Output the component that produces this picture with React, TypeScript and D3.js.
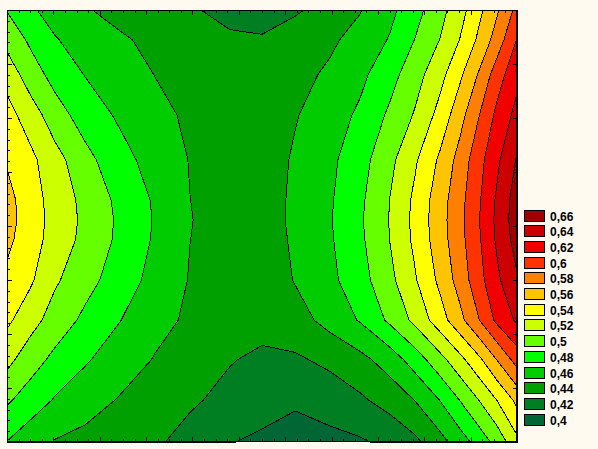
import React from 'react';
import * as d3 from 'd3';

// Contour levels (lower bound of each band) with legend labels and colours
const levels = [0.4, 0.42, 0.44, 0.46, 0.48, 0.5, 0.52, 0.54, 0.56, 0.58, 0.6, 0.62, 0.64, 0.66];
const levelLabels = ['0,4', '0,42', '0,44', '0,46', '0,48', '0,5', '0,52', '0,54', '0,56', '0,58', '0,6', '0,62', '0,64', '0,66'];
const levelColors = ['#006633', '#007f22', '#00a000', '#00cc00', '#00ff00', '#66ff00', '#ccff00', '#ffff00', '#ffc400', '#ff8000', '#ff3300', '#f00000', '#cc0000', '#a00000'];

// Grid sample positions (normalised axis units, 0..1)
const xGrid = [0, 0.045, 0.094, 0.153, 0.222, 0.29, 0.359, 0.437, 0.5, 0.565, 0.633, 0.692, 0.751, 0.8, 0.849, 0.888, 0.927, 0.961, 1];
const yGrid = [0, 0.069, 0.15, 0.243, 0.347, 0.44, 0.486, 0.532, 0.625, 0.718, 0.81, 0.903, 1];

// Surface values, one row per yGrid entry (top to bottom)
const row00 = [0.499, 0.483, 0.4726, 0.4615, 0.4544, 0.4481, 0.4418, 0.4352, 0.432, 0.4377, 0.4468, 0.4588, 0.475, 0.4928, 0.5133, 0.532, 0.556, 0.5775, 0.606];
const row01 = [0.513, 0.4969, 0.4813, 0.4721, 0.4623, 0.4558, 0.4504, 0.4425, 0.4418, 0.4487, 0.4566, 0.467, 0.4815, 0.5005, 0.5205, 0.5405, 0.565, 0.589, 0.621];
const row02 = [0.533, 0.5098, 0.4933, 0.4794, 0.4693, 0.4597, 0.4542, 0.4481, 0.4452, 0.454, 0.4632, 0.4752, 0.4929, 0.512, 0.5336, 0.5563, 0.5833, 0.6108, 0.635];
const row03 = [0.547, 0.5309, 0.5087, 0.4911, 0.4767, 0.4652, 0.4569, 0.4503, 0.4472, 0.4586, 0.4709, 0.4833, 0.5036, 0.5218, 0.5467, 0.5725, 0.6005, 0.625, 0.646];
const row04 = [0.558, 0.5451, 0.5277, 0.5062, 0.487, 0.4718, 0.4592, 0.4524, 0.4492, 0.4626, 0.4756, 0.492, 0.515, 0.5373, 0.5635, 0.5875, 0.6143, 0.6363, 0.662];
const row05 = [0.567, 0.5486, 0.5327, 0.5143, 0.495, 0.4776, 0.4601, 0.4528, 0.4492, 0.4642, 0.4777, 0.496, 0.5205, 0.5442, 0.5711, 0.5933, 0.6187, 0.6431, 0.67];
const row06 = [0.568, 0.5495, 0.5335, 0.5156, 0.4964, 0.4785, 0.4606, 0.4528, 0.4482, 0.465, 0.4785, 0.4973, 0.521, 0.5453, 0.5722, 0.5944, 0.6205, 0.6446, 0.671];
const row07 = [0.565, 0.5483, 0.5325, 0.5142, 0.4958, 0.4776, 0.4601, 0.4527, 0.447, 0.4639, 0.4776, 0.496, 0.5205, 0.5442, 0.5711, 0.5933, 0.6187, 0.6431, 0.668];
const row08 = [0.5547, 0.5434, 0.5229, 0.5071, 0.4902, 0.4735, 0.4589, 0.4515, 0.4461, 0.4612, 0.4752, 0.492, 0.515, 0.5381, 0.5647, 0.5882, 0.6143, 0.6363, 0.658];
const row09 = [0.544, 0.528, 0.5114, 0.4957, 0.4804, 0.4661, 0.4569, 0.4507, 0.4457, 0.4515, 0.467, 0.4815, 0.504, 0.525, 0.5511, 0.5741, 0.6005, 0.6247, 0.643];
const row10 = [0.5257, 0.509, 0.4949, 0.4821, 0.47, 0.4588, 0.4505, 0.441, 0.4367, 0.4373, 0.444, 0.454, 0.4689, 0.4891, 0.513, 0.5337, 0.5565, 0.5805, 0.608];
const row11 = [0.503, 0.4907, 0.4784, 0.4689, 0.4584, 0.4505, 0.4425, 0.435, 0.4295, 0.4232, 0.4299, 0.4368, 0.4478, 0.4605, 0.4805, 0.5005, 0.5211, 0.5405, 0.565];
const row12 = [0.4795, 0.4685, 0.4587, 0.4539, 0.4482, 0.4426, 0.4339, 0.421, 0.4157, 0.4108, 0.4138, 0.4176, 0.4248, 0.4357, 0.453, 0.4704, 0.489, 0.5071, 0.535];
const gridRows = [row00, row01, row02, row03, row04, row05, row06, row07, row08, row09, row10, row11, row12];

const W = 598;
const H = 449;
const PX0 = 7, PX1 = 517, PY0 = 10, PY1 = 442;

export default function App() {
  const xs = d3.scaleLinear().domain([0, 1]).range([PX0, PX1]);
  const ys = d3.scaleLinear().domain([0, 1]).range([PY0, PY1]);
  const n = xGrid.length;
  const m = yGrid.length;
  const gx = d3.scaleLinear().domain(d3.range(n)).range(xGrid).clamp(true);
  const gy = d3.scaleLinear().domain(d3.range(m)).range(yGrid).clamp(true);
  const values = gridRows.flat();
  const contours = d3.contours().size([n, m]).thresholds(levels.slice(1))(values);

  const proj = (p: number[]) => [xs(gx(p[0] - 0.5)), ys(gy(p[1] - 0.5))];
  const toPath = (mp: any) =>
    mp.coordinates
      .map((poly: number[][][]) =>
        poly
          .map((ring) => 'M' + ring.map((p) => proj(p).map((v) => v.toFixed(2)).join(',')).join('L') + 'Z')
          .join('')
      )
      .join('');

  const colorOf = d3.scaleOrdinal<number, string>().domain(levels).range(levelColors);

  // axis ticks
  const bottomTicks = d3.range(0, 45).map((k) => ({ v: k / 44, major: k % 4 === 0 }));
  const leftTicks = d3.range(0, 41).map((k) => ({ v: k / 40, major: k % 5 === 0 }));
  const rightTicks = d3.range(0, 9).map((k) => ({ v: k / 8 }));

  const legendItems = levels.map((l, i) => ({ l, label: levelLabels[i], color: levelColors[i] })).reverse();
  const legY = d3.scaleLinear().domain([0, 1]).range([209.5, 225.2]);

  return (
    <svg width={W} height={H} style={{ position: 'absolute', left: 0, top: 0 }} xmlns="http://www.w3.org/2000/svg">
      <rect x={0} y={0} width={W} height={H} fill="#fffaf0" />
      <rect x={PX0} y={PY0} width={PX1 - PX0} height={PY1 - PY0} fill={colorOf(levels[0])} />
      {contours.map((c, i) => (
        <path key={'f' + i} d={toPath(c)} fill={colorOf(c.value)} stroke="none" />
      ))}
      {contours.map((c, i) => (
        <path key={'l' + i} d={toPath(c)} fill="none" stroke="#000" strokeWidth={1} shapeRendering="crispEdges" />
      ))}
      <g stroke="#000" strokeWidth={1} shapeRendering="crispEdges">
        {bottomTicks.map((t, i) => (
          <line key={'b' + i} x1={Math.round(xs(t.v)) + 0.5} x2={Math.round(xs(t.v)) + 0.5} y1={PY1} y2={PY1 - (t.major ? 5 : 3)} />
        ))}
        {bottomTicks.map((t, i) => (
          <line key={'t' + i} x1={Math.round(xs(t.v)) + 0.5} x2={Math.round(xs(t.v)) + 0.5} y1={PY0} y2={PY0 + (t.major ? 5 : 3)} />
        ))}
        {leftTicks.map((t, i) => (
          <line key={'lt' + i} x1={PX0} x2={PX0 + (t.major ? 5 : 3)} y1={Math.round(ys(t.v)) + 0.5} y2={Math.round(ys(t.v)) + 0.5} />
        ))}
        {rightTicks.map((t, i) => (
          <line key={'rt' + i} x1={PX1} x2={PX1 - 4} y1={Math.round(ys(t.v)) + 0.5} y2={Math.round(ys(t.v)) + 0.5} />
        ))}
      </g>
      <rect x={PX0 + 0.5} y={PY0 + 0.5} width={PX1 - PX0 - 1} height={PY1 - PY0 - 1} fill="none" stroke="#000" strokeWidth={1} shapeRendering="crispEdges" />
      <g>
        {legendItems.map((d, i) => (
          <g key={'lg' + i}>
            <rect x={524.5} y={Math.round(legY(i)) + 0.5} width={20} height={11} fill={d.color} stroke="#000" strokeWidth={1} shapeRendering="crispEdges" />
            <text x={550} y={Math.round(legY(i)) + 11} fontFamily="'Liberation Sans', Arial, sans-serif" fontWeight="bold" fontSize={12} fill="#000">
              {d.label}
            </text>
          </g>
        ))}
      </g>
    </svg>
  );
}
